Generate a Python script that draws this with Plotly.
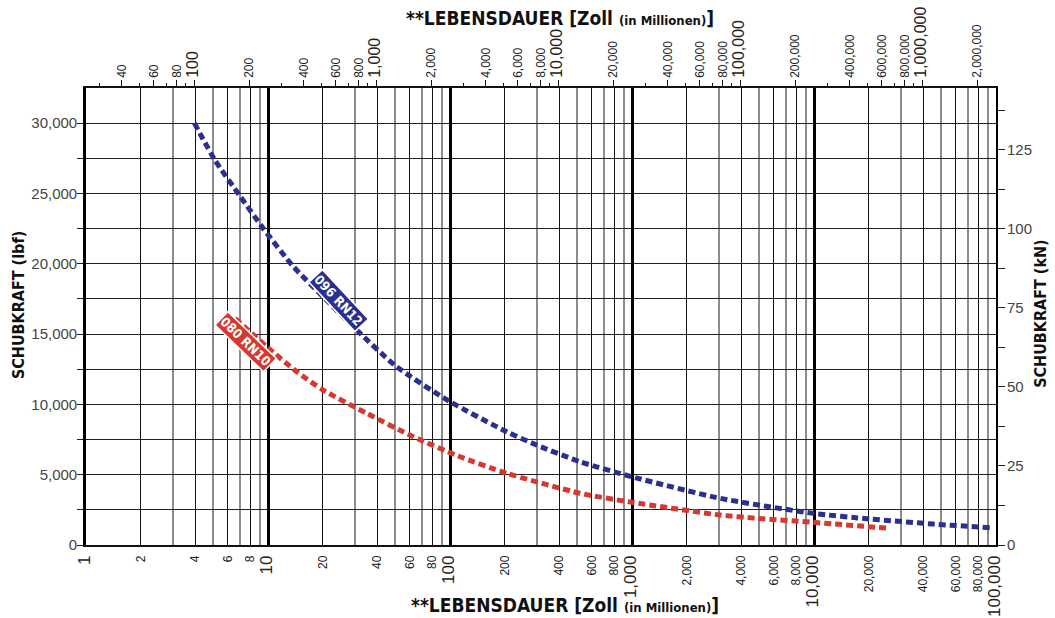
import plotly.graph_objects as go

# ---------------- data ----------------
# life in the bottom-axis units (millions), thrust in lbf
blue_name = "096 RN12"
blue_life = [3.94, 5.11, 7.02, 9.42, 13.8, 20.1, 29.4, 50.9, 100, 205, 299, 518, 996, 3050, 9910, 20300, 45200, 92700]
blue_lbf = [30000, 27370, 24810, 22510, 19790, 17650, 15520, 12680, 10190, 8050, 7110, 5920, 4860, 3320, 2250, 1850, 1490, 1230]

red_name = "080 RN10"
red_life = [6.59, 9.84, 14.4, 20.1, 34.9, 62.9, 111, 205, 518, 996, 3050, 4840, 9910, 25600]
red_lbf = [16120, 14100, 12320, 11020, 9360, 7700, 6330, 5100, 3680, 3040, 2130, 1900, 1610, 1190]

# bottom axis ticks
bottom_tick_vals = [1, 2, 4, 6, 8, 10, 20, 40, 60, 80, 100, 200, 400, 600, 800,
                    1000, 2000, 4000, 6000, 8000, 10000, 20000, 40000, 60000, 80000, 100000]
bottom_tick_text = ["1", "2", "4", "6", "8", "10", "20", "40", "60", "80", "100", "200", "400", "600", "800",
                    "1,000", "2,000", "4,000", "6,000", "8,000", "10,000", "20,000", "40,000", "60,000", "80,000", "100,000"]
bottom_decade_text = ["1", "10", "100", "1,000", "10,000", "100,000"]
bottom_decades = [1, 10, 100, 1000, 10000, 100000]
bottom_minor_vals = [3, 5, 7, 9, 30, 50, 70, 90, 300, 500, 700, 900,
                     3000, 5000, 7000, 9000, 30000, 50000, 70000, 90000]

# top axis ticks (bottom value x 25.4)
top_factor = 25.4
top_tick_vals = [40, 60, 80, 100, 200, 400, 600, 800, 1000, 2000, 4000, 6000, 8000, 10000,
                 20000, 40000, 60000, 80000, 100000, 200000, 400000, 600000, 800000, 1000000, 2000000]
top_tick_text = ["40", "60", "80", "100", "200", "400", "600", "800", "1,000", "2,000", "4,000", "6,000", "8,000",
                 "10,000", "20,000", "40,000", "60,000", "80,000", "100,000", "200,000", "400,000", "600,000",
                 "800,000", "1,000,000", "2,000,000"]
top_minor_vals = [30, 50, 70, 90, 300, 500, 700, 900, 3000, 5000, 7000, 9000, 30000, 50000, 70000, 90000,
                  300000, 500000, 700000, 900000]
top_decade_text = ["100", "1,000", "10,000", "100,000", "1,000,000"]

# left axis (lbf)
left_tick_vals = [0, 2500, 5000, 7500, 10000, 12500, 15000, 17500, 20000, 22500, 25000, 27500, 30000]
left_tick_text = ["0", "", "5,000", "", "10,000", "", "15,000", "", "20,000", "", "25,000", "", "30,000"]
y_max_lbf = 32500

# right axis (kN)
lbf_per_kn = 224.809
right_tick_vals = [0, 12.5, 25, 37.5, 50, 62.5, 75, 87.5, 100, 112.5, 125, 137.5]
right_tick_text = ["0", "", "25", "", "50", "", "75", "", "100", "", "125", ""]

# ---------------- styling ----------------
BLUE = "#2b3090"
RED = "#d5392f"
TICK_FONT = "Liberation Sans, Arial, sans-serif"
TITLE_FONT = "Liberation Sans Narrow, DejaVu Sans Condensed, Arial Narrow, sans-serif"


def big_decades(texts, decades_text, size):
    fmt = '<span style="font-size:%dpx">{}</span>' % size
    return [fmt.format(t) if t in decades_text else t for t in texts]


bottom_text = big_decades(bottom_tick_text, bottom_decade_text, 17)
top_text = big_decades(top_tick_text, top_decade_text, 16)

fig = go.Figure()

fig.add_trace(go.Scatter(
    x=blue_life, y=blue_lbf, mode="lines", name=blue_name,
    line=dict(color=BLUE, width=5, dash="7px,4px", shape="spline", smoothing=0.6),
    hoverinfo="skip", showlegend=False))
fig.add_trace(go.Scatter(
    x=red_life, y=red_lbf, mode="lines", name=red_name,
    line=dict(color=RED, width=5, dash="7px,4px", shape="spline", smoothing=0.6),
    hoverinfo="skip", showlegend=False))

# the same blue series expressed in the secondary units, invisible, so the
# secondary axes (top life scale, right kN scale, decade grid) are drawn
fig.add_trace(go.Scatter(
    x=[v * top_factor for v in blue_life], y=[v / lbf_per_kn for v in blue_lbf],
    xaxis="x2", yaxis="y2", mode="lines", line=dict(width=0, color="rgba(0,0,0,0)"),
    hoverinfo="skip", showlegend=False))
fig.add_trace(go.Scatter(
    x=blue_life, y=blue_lbf, xaxis="x3", yaxis="y", mode="lines",
    line=dict(width=0, color="rgba(0,0,0,0)"), hoverinfo="skip", showlegend=False))

fig.update_layout(
    width=1055, height=618,
    margin=dict(l=86, r=59, t=88, b=73, autoexpand=False),
    paper_bgcolor="white", plot_bgcolor="white",
    showlegend=False,
    xaxis=dict(
        type="log", range=[0, 5], side="bottom",
        tickmode="array", tickvals=bottom_tick_vals, ticktext=bottom_text,
        tickangle=-90, ticks="", ticklabelstandoff=4,
        tickfont=dict(family=TICK_FONT, size=12, color="#222"),
        showgrid=True, gridcolor="#111", gridwidth=1,
        minor=dict(tickvals=bottom_minor_vals, showgrid=True, gridcolor="#8c8c8c", gridwidth=1.5, ticks=""),
        showline=True, linecolor="#111", linewidth=1.5,
        zeroline=False, fixedrange=True,
    ),
    xaxis3=dict(
        type="log", range=[0, 5], overlaying="x", anchor="y",
        tickmode="array", tickvals=bottom_decades, showticklabels=False, ticks="",
        showgrid=True, gridcolor="#000", gridwidth=2.6, showline=False, zeroline=False,
    ),
    xaxis2=dict(
        type="log", range=[1.404834, 6.404834], overlaying="x", side="top", anchor="y2",
        tickmode="array", tickvals=top_tick_vals, ticktext=top_text,
        tickangle=-90, ticks="outside", ticklen=6, tickcolor="#111", tickwidth=1.2,
        tickfont=dict(family=TICK_FONT, size=12, color="#222"),
        minor=dict(tickvals=top_minor_vals, ticks="outside", ticklen=3, tickcolor="#111", showgrid=False),
        showgrid=False, showline=True, linecolor="#111", linewidth=1.5, zeroline=False,
    ),
    yaxis=dict(
        range=[0, y_max_lbf], tickmode="array", tickvals=left_tick_vals, ticktext=left_tick_text,
        ticks="outside", ticklen=6, tickcolor="#222", tickwidth=1, ticklabelstandoff=-3,
        tickfont=dict(family=TICK_FONT, size=15, color="#444"),
        showgrid=True, gridcolor="#222", gridwidth=1.1,
        showline=True, linecolor="#000", linewidth=2.6, zeroline=False, fixedrange=True,
    ),
    yaxis2=dict(
        range=[0, y_max_lbf / lbf_per_kn], overlaying="y", side="right", anchor="x2",
        tickmode="array", tickvals=right_tick_vals, ticktext=right_tick_text,
        ticks="outside", ticklen=7, tickcolor="#222", tickwidth=1, ticklabelstandoff=-1,
        tickfont=dict(family=TICK_FONT, size=15, color="#444"),
        showgrid=False, showline=True, linecolor="#000", linewidth=2, zeroline=False,
    ),
)

title_text = ('<b>**LEBENSDAUER [Zoll <span style="font-size:13px">(in Millionen)</span>]</b>')
fig.add_annotation(text=title_text, xref="paper", yref="paper", x=0.521, y=1.153,
                   showarrow=False, xanchor="center", yanchor="middle",
                   font=dict(family=TITLE_FONT, size=19, color="#111"))
fig.add_annotation(text=title_text, xref="paper", yref="paper", x=0.526, y=-0.131,
                   showarrow=False, xanchor="center", yanchor="middle",
                   font=dict(family=TITLE_FONT, size=19, color="#111"))
fig.add_annotation(text="<b>SCHUBKRAFT (lbf)</b>", xref="paper", yref="paper", x=-0.0747, y=0.525,
                   showarrow=False, textangle=-90, xanchor="center", yanchor="middle",
                   font=dict(family=TITLE_FONT, size=16, color="#111"))
fig.add_annotation(text="<b>SCHUBKRAFT (kN)</b>", xref="paper", yref="paper", x=1.049, y=0.505,
                   showarrow=False, textangle=-90, xanchor="center", yanchor="middle",
                   font=dict(family=TITLE_FONT, size=16, color="#111"))

# curve labels
fig.add_annotation(text="<b>" + blue_name + "</b>", x=1.39, y=17350, xref="x", yref="y",
                   showarrow=False, textangle=47, bgcolor=BLUE, bordercolor="white", borderwidth=1.5,
                   borderpad=1, font=dict(family=TITLE_FONT, size=13, color="white"))
fig.add_annotation(text="<b>" + red_name + "</b>", x=0.879, y=14430, xref="x", yref="y",
                   showarrow=False, textangle=44, bgcolor=RED, bordercolor="white", borderwidth=1.5,
                   borderpad=1, font=dict(family=TITLE_FONT, size=13, color="white"))

fig.write_html("out.html")
